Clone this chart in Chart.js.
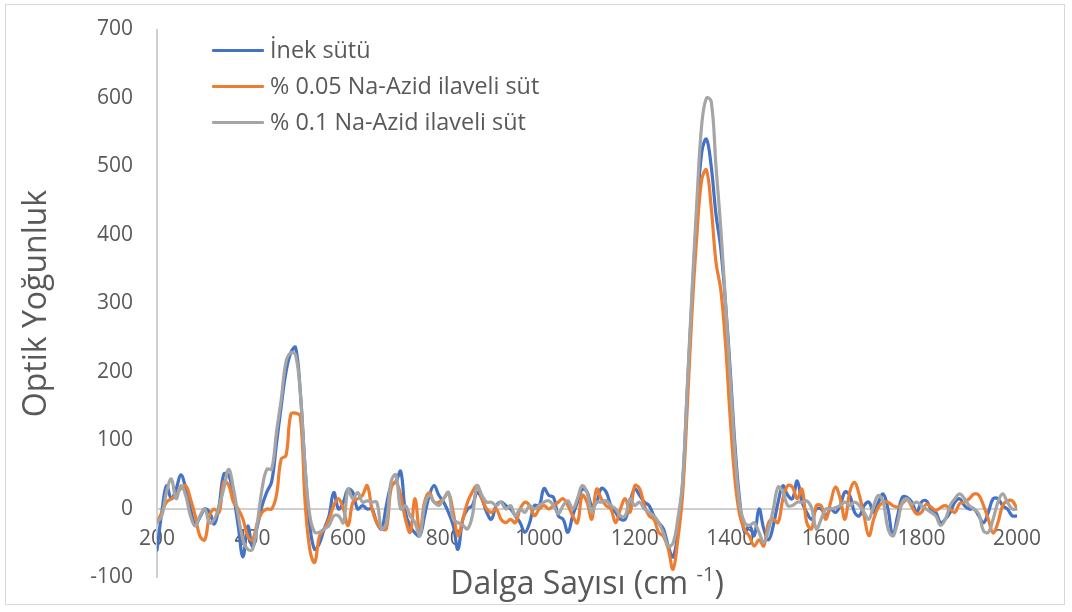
<!DOCTYPE html>
<html>
<head>
<meta charset="utf-8">
<script src="https://cdn.jsdelivr.net/npm/chart.js@4.4.1/dist/chart.umd.min.js"></script>
<style>
  html, body { margin: 0; padding: 0; background: #ffffff; }
  #wrap { position: relative; width: 1072px; height: 612px; overflow: hidden; }
  #frame { position: absolute; left: 5px; top: 4px; width: 1060px; height: 601px; border: 1px solid #d9d9d9; box-sizing: border-box; pointer-events: none; }
  canvas { position: absolute; left: 0; top: 0; }
  #legend { position: absolute; left: 212px; top: 31px; font-family: "Open Sans", sans-serif; font-size: 23.4px; color: #595959; }
  .row { position: relative; height: 36px; line-height: 36px; white-space: nowrap; }
  .sw { display: inline-block; width: 52px; height: 3px; vertical-align: middle; margin-right: 6px; position: relative; top: -1px; border-radius: 1px; }
</style>
</head>
<body>
<div id="wrap">
  <canvas id="c" width="1072" height="612"></canvas>
  <div id="frame"></div>
  <div id="legend"></div>
</div>
<script>
// ---- DATA ----
const WAVE_START = 200;
const WAVE_STEP = 10;
const seriesNames = ["İnek sütü", "% 0.05 Na-Azid ilaveli süt", "% 0.1 Na-Azid ilaveli süt"];
const xTickValues = [200, 400, 600, 800, 1000, 1200, 1400, 1600, 1800, 2000];
const yTickValues = [-100, 0, 100, 200, 300, 400, 500, 600, 700];
const xTitle = "Dalga Sayısı (cm ";
const xTitleSup = "-1";
const xTitleEnd = ")";
const yTitle = "Optik Yoğunluk";

const inekSutu = [
  -60, -5, 34, 15, 29, 50, 30, 0, -22, -12,
  0, -5, -22, 5, 51, 49, 20, -25, -70, -25,
  -55, -25, 5, 25, 40, 95, 150, 200, 228, 236,
  170, 60, -25, -59, -50, -29, -10, 24, 0, 10,
  29, 24, 0, 5, 0, 0, -20, -29, 5, 34,
  40, 55, -5, -25, -35, -39, -10, 20, 34, 20,
  10, -5, -24, -59, -15, 0, 5, 24, 15, -5,
  -15, 5, 10, 5, 0, -10, -20, -34, -20, 5,
  5, 30, 20, 17, -10, -15, -34, -10, 10, 29,
  25, 5, 10, 30, 25, 5, -5, -15, -15, 10,
  29, 20, 10, 5, -10, -20, -29, -54, -70, -35,
  35, 175, 310, 430, 520, 540, 500, 430, 380, 300,
  200, 90, 10, -34, -24, -39, 0, -29, -45, -24,
  10, 34, 20, 15, 41, 10, -5, -15, 0, 0,
  -10, 0, -5, 5, 25, 20, -5, -10, 5, 10,
  -5, 10, 22, 0, -39, -10, 17, 17, 10, -5,
  10, 12, 0, -5, -20, -15, -5, 10, 15, 5,
  0, 0, -10, -20, -5, 15, 15, 5, 0, -10,
  -10
];
const naAzid005 = [
  -20, -5, 10, 15, 20, 30, 34, 15, -10, -40,
  -45, -10, 0, -5, 40, 35, 10, 0, -15, -40,
  -45, -20, -5, 0, 0, 20, 73, 78, 138, 140,
  135, 10, -60, -78, -40, -29, -15, 5, 15, 0,
  -24, 10, 15, 20, 34, 0, -20, -29, -29, 30,
  39, 20, -15, -34, 15, -34, 10, 24, 10, 10,
  15, 24, -5, -39, -15, 10, 25, 34, 15, 0,
  -5, 0, -15, -20, -15, -20, 0, 10, 5, -10,
  0, 5, 0, 5, 10, 15, 5, -10, -20, 20,
  10, -15, 29, 15, 5, 0, -20, 0, 15, -5,
  34, 30, 5, -10, -15, -34, -40, -58, -88, -45,
  20, 150, 290, 400, 480, 495, 440, 360, 320, 240,
  130, 40, -10, -30, -40, -54, -45, -54, -20, -15,
  -20, 15, 34, 32, 15, 29, -20, -29, 5, 5,
  -15, 10, 32, 15, -15, 25, 39, 20, -10, -39,
  -15, 3, 10, 10, 5, 3, 8, 14, 3, -7,
  -5, 7, 3, -2, 2, 5, 0, -5, 8, 10,
  15, 22, 20, 5, -15, -35, -20, 5, 12, 12,
  0
];
const naAzid01 = [
  -20, -10, 25, 44, 15, 34, 20, -10, -25, -10,
  0, -20, -15, 5, 30, 58, 30, -10, -45, -59,
  -59, -20, 30, 58, 58, 112, 160, 215, 228, 225,
  170, 60, -10, -34, -34, -29, -24, -10, -10, -20,
  29, 15, 24, 10, 12, 10, 10, -29, -20, 40,
  50, 0, 5, -10, -20, -39, 5, 20, 10, 5,
  15, 24, -15, -20, -24, -29, -10, 34, 20, 10,
  10, 5, 10, 0, 5, -10, 0, -5, 5, 0,
  5, 10, 12, 5, -7, 5, 12, 0, 15, 34,
  24, -5, 10, 10, 12, 5, 0, -10, -10, 15,
  5, 10, 0, -5, -10, -20, -35, -54, -50, -15,
  40, 180, 320, 450, 560, 600, 595, 500, 410, 300,
  190, 80, 5, -20, -24, -20, -34, -49, -30, 0,
  32, 25, 5, 5, 10, 10, 12, 2, -29, -15,
  0, 0, 2, 5, 10, 5, 10, 5, -5, -15,
  5, 20, 10, -29, -39, -20, 10, 15, 7, 10,
  5, 0, -5, -10, -24, -15, 5, 15, 22, 15,
  5, 0, -7, -32, -34, -15, 10, 22, 10, 0,
  0
];
const seriesColors = ["#4472C4", "#ED7D31", "#A5A5A5"];

// ---- BUILD ----
function toPoints(vals) {
  return vals.map((v, i) => ({ x: WAVE_START + i * WAVE_STEP, y: v }));
}
const allSeries = [inekSutu, naAzid005, naAzid01];
const FONT = '"Open Sans", sans-serif';
const TXT = '#595959';

const datasets = allSeries.map((vals, i) => ({
  label: seriesNames[i],
  data: toPoints(vals),
  borderColor: seriesColors[i],
  backgroundColor: seriesColors[i],
  borderWidth: 3.2,
  pointRadius: 0,
  tension: 0.4,
  fill: false,
  order: 3 - i,
  borderJoinStyle: 'round',
  borderCapStyle: 'round'
}));

const titlesPlugin = {
  id: 'titles',
  afterDraw(chart) {
    const { ctx, chartArea } = chart;
    ctx.save();
    ctx.fillStyle = TXT;
    ctx.font = '32px ' + FONT;
    ctx.textAlign = 'center';
    ctx.textBaseline = 'middle';
    ctx.translate(37, (chartArea.top + chartArea.bottom) / 2);
    ctx.rotate(-Math.PI / 2);
    ctx.fillText(yTitle, 0, 0);
    ctx.restore();
    ctx.save();
    ctx.fillStyle = TXT;
    ctx.textAlign = 'left';
    ctx.textBaseline = 'alphabetic';
    const mainFont = '32px ' + FONT;
    const supFont = '20px ' + FONT;
    ctx.font = mainFont;
    const w1 = ctx.measureText(xTitle).width;
    const w3 = ctx.measureText(xTitleEnd).width;
    ctx.font = supFont;
    const w2 = ctx.measureText(xTitleSup).width;
    const total = w1 + w2 + w3;
    const cx = (chartArea.left + chartArea.right) / 2;
    let x0 = cx - total / 2;
    const base = 594;
    ctx.font = mainFont;
    ctx.fillText(xTitle, x0, base);
    ctx.font = supFont;
    ctx.fillText(xTitleSup, x0 + w1, base - 13);
    ctx.font = mainFont;
    ctx.fillText(xTitleEnd, x0 + w1 + w2, base);
    ctx.restore();
  }
};

const chart = new Chart(document.getElementById('c'), {
  type: 'line',
  data: { datasets },
  options: {
    responsive: false,
    animation: false,
    devicePixelRatio: 1,
    layout: { autoPadding: false, padding: { left: 0, top: 29, right: 55, bottom: 35 } },
    plugins: { legend: { display: false }, tooltip: { enabled: false } },
    scales: {
      x: {
        type: 'linear',
        min: 200,
        max: 2000,
        position: { y: 0 },
        afterBuildTicks(scale) { scale.ticks = xTickValues.map(v => ({ value: v })); },
        ticks: { color: TXT, font: { family: FONT, size: 21 }, padding: 17, maxRotation: 0, autoSkip: false, callback: v => String(v) },
        grid: { display: false, drawTicks: false },
        border: { display: true, color: '#d0d0d0', width: 2 }
      },
      y: {
        type: 'linear',
        min: -100,
        max: 700,
        afterBuildTicks(scale) { scale.ticks = yTickValues.map(v => ({ value: v })); },
        afterFit(scale) { scale.width = 157; scale.paddingTop = 0; scale.paddingBottom = 0; },
        ticks: { color: TXT, font: { family: FONT, size: 21 }, padding: 24, callback: v => String(v) },
        grid: { display: false, drawTicks: false },
        border: { display: true, color: '#d0d0d0', width: 2 }
      }
    }
  },
  plugins: [titlesPlugin]
});

// Nudge layout padding so the plot area lands where the reference has it
const TARGET = { top: 29.5, bottom: 577.5, right: 1017 };
for (let k = 0; k < 4; k++) {
  const a = chart.chartArea;
  const p = chart.options.layout.padding;
  const dt = TARGET.top - a.top, db = a.bottom - TARGET.bottom, dr = a.right - TARGET.right;
  if (Math.abs(dt) < 0.5 && Math.abs(db) < 0.5 && Math.abs(dr) < 0.5) break;
  p.top += dt; p.bottom += db; p.right += dr;
  chart.update('none');
}

const lg = document.getElementById('legend');
seriesNames.forEach((n, i) => {
  const r = document.createElement('div');
  r.className = 'row';
  const s = document.createElement('span');
  s.className = 'sw';
  s.style.background = seriesColors[i];
  r.appendChild(s);
  r.appendChild(document.createTextNode(n));
  lg.appendChild(r);
});
</script>
</body>
</html>
